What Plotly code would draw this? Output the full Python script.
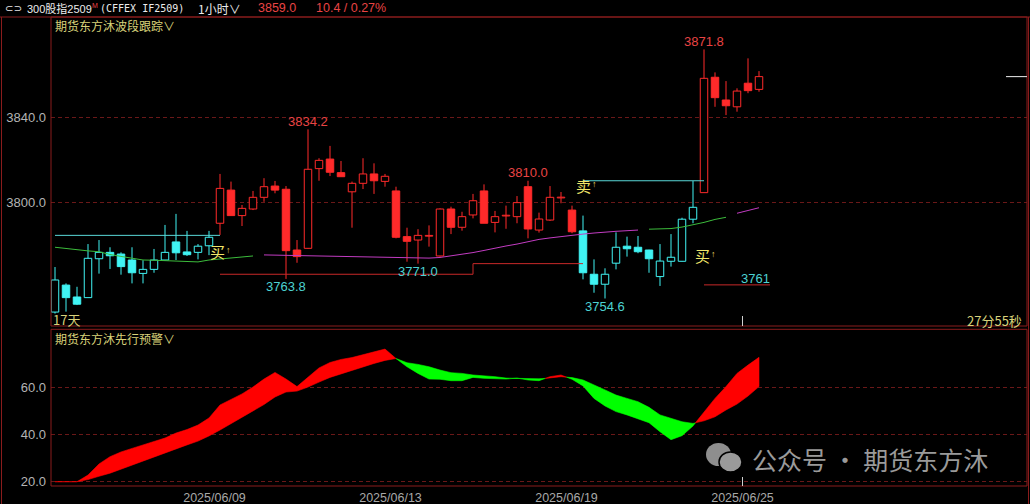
import plotly.graph_objects as go

# ---------------- data ----------------
opens = [3748.2, 3760.9, 3755.3, 3755.0, 3773.3, 3776.3, 3775.5, 3772.7, 3766.4, 3768.3,
         3772.7, 3781.2, 3776.5, 3776.3, 3779.4, 3790.0, 3805.6, 3793.6, 3796.7, 3802.2,
         3807.5, 3806.0, 3777.4, 3778.2, 3815.7, 3820.2, 3813.8, 3804.8, 3808.8, 3813.2,
         3809.7, 3805.2, 3783.7, 3782.1, 3784.0, 3774.6, 3796.7, 3788.1, 3793.9, 3805.2,
         3790.4, 3793.6, 3793.1, 3807.2, 3786.8, 3791.5, 3802.0, 3796.2, 3786.4, 3766.0,
         3761.3, 3771.2, 3779.2, 3778.7, 3777.4, 3764.9, 3772.1, 3772.1, 3791.9, 3804.4,
         3858.7, 3848.0, 3844.8, 3855.9, 3853.0]
highs = [3769.4, 3761.7, 3760.1, 3780.2, 3782.1, 3778.7, 3776.3, 3778.7, 3772.6, 3777.9,
         3789.2, 3794.4, 3786.4, 3780.2, 3786.4, 3813.2, 3809.6, 3798.6, 3805.2, 3811.2,
         3809.9, 3807.5, 3782.1, 3834.2, 3820.6, 3826.4, 3819.3, 3809.6, 3820.6, 3818.2,
         3813.2, 3807.2, 3787.9, 3787.2, 3789.0, 3797.0, 3797.8, 3795.4, 3803.8, 3808.3,
         3795.8, 3798.3, 3802.8, 3810.0, 3795.0, 3807.5, 3804.7, 3798.3, 3793.6, 3773.0,
         3768.8, 3785.7, 3783.7, 3784.0, 3777.5, 3780.2, 3784.9, 3792.6, 3809.9, 3871.8,
         3861.0, 3856.9, 3853.5, 3867.6, 3861.6]
lows = [3747.5, 3748.4, 3751.5, 3755.0, 3766.3, 3768.5, 3765.8, 3761.7, 3761.7, 3766.7,
        3772.5, 3772.7, 3774.6, 3773.0, 3775.0, 3784.5, 3793.4, 3788.7, 3796.2, 3800.1,
        3804.1, 3763.8, 3771.4, 3778.0, 3810.0, 3812.2, 3811.9, 3787.9, 3806.1, 3803.8,
        3807.2, 3782.9, 3771.9, 3771.0, 3779.0, 3774.3, 3784.9, 3786.5, 3792.3, 3790.0,
        3785.7, 3787.4, 3790.0, 3782.9, 3785.6, 3791.1, 3799.4, 3785.3, 3763.6, 3757.3,
        3754.6, 3768.3, 3774.3, 3775.9, 3766.7, 3760.5, 3769.6, 3772.0, 3790.0, 3804.4,
        3844.8, 3840.9, 3842.5, 3851.2, 3851.9]
closes = [3763.3, 3755.0, 3751.9, 3773.5, 3776.3, 3774.7, 3769.6, 3766.7, 3768.3, 3772.7,
          3776.3, 3776.1, 3775.2, 3779.2, 3783.4, 3806.4, 3793.6, 3797.0, 3802.2, 3807.2,
          3805.6, 3777.1, 3774.3, 3815.4, 3819.6, 3814.0, 3811.9, 3808.8, 3813.2, 3810.0,
          3812.1, 3783.4, 3781.5, 3784.3, 3784.2, 3796.7, 3788.1, 3793.1, 3800.6, 3790.0,
          3793.1, 3793.6, 3799.7, 3787.3, 3792.0, 3802.2, 3802.2, 3786.0, 3766.7, 3761.3,
          3766.0, 3778.7, 3778.0, 3776.6, 3773.3, 3772.2, 3774.0, 3791.9, 3797.5, 3858.2,
          3849.1, 3845.3, 3852.2, 3852.4, 3859.0]
# trend state of each bar (c = cyan / weak, r = red / strong)
trend = ["c"] * 15 + ["r"] * 33 + ["c"] * 11 + ["r"] * 6

# moving-average line pieces (start index, values)
green_1_start, green_1 = 0, [3778.7, 3778.1, 3777.4, 3777.0, 3776.6, 3775.3, 3774.4, 3773.4, 3772.7, 3772.6,
                             3772.4, 3772.0, 3771.8, 3771.8, 3772.7, 3773.2, 3773.9, 3774.4, 3774.6]
magenta_1_start, magenta_1 = 19, [3775.1, 3775.0, 3774.9, 3774.9, 3774.8, 3774.6, 3774.5, 3774.4, 3774.3, 3774.2,
                                  3774.1, 3774.1, 3774.1, 3773.9, 3773.6, 3773.6, 3773.9, 3774.6, 3775.3, 3776.2,
                                  3777.2, 3778.4, 3779.3, 3780.2, 3781.4, 3782.4, 3783.1, 3783.8, 3784.5, 3784.9,
                                  3785.4, 3785.9, 3786.2, 3786.5, 3786.8]
green_2_start, green_2 = 54, [3787.2, 3787.3, 3787.5, 3788.2, 3789.2, 3790.4, 3791.8, 3792.8]
magenta_2_start, magenta_2 = 62, [3794.7, 3796.0, 3797.3]

# step (support / resistance) lines
cyan_step_1_x, cyan_step_1_y = [0, 15], [3784.3, 3784.3]
red_step_1_x, red_step_1_y = [15, 38, 38, 48], [3766.0, 3766.0, 3771.0, 3771.0]
cyan_step_2_x, cyan_step_2_y = [48, 59], [3810.0, 3810.0]
red_step_2_x, red_step_2_y = [59, 65], [3761.0, 3761.0]

# labelled extremes
high_label_idx = [23, 43, 59]
low_label_idx = [21, 33, 50]

# signals (bar index, price, text)
signals = [(14.8, 3776.5, "买"), (48.0, 3807.6, "卖"), (58.9, 3774.8, "买")]

# lower indicator: fast & slow lines
fast = [20.0, 20.0, 20.0, 22.8, 27.5, 30.6, 32.6, 34.1, 35.6, 36.8,
        38.5, 40.6, 42.1, 44.0, 47.0, 52.5, 55.0, 57.2, 60.1, 63.5,
        66.3, 63.5, 60.3, 64.2, 68.2, 70.5, 71.8, 72.6, 73.9, 75.2,
        76.2, 72.2, 68.7, 65.9, 63.5, 63.4, 62.8, 62.8, 64.2, 63.8,
        63.6, 63.5, 63.9, 63.1, 62.8, 64.5, 65.2, 63.4, 60.6, 55.3,
        52.1, 49.7, 48.3, 46.6, 45.0, 41.2, 37.8, 39.5, 43.6, 49.7,
        55.3, 60.3, 65.9, 69.4, 72.7]
slow = [20.0, 20.0, 20.0, 20.9, 22.3, 23.6, 25.2, 26.9, 28.8, 30.5,
        32.2, 33.9, 35.6, 37.2, 39.4, 41.9, 44.4, 47.2, 50.0, 52.7,
        55.9, 58.0, 58.4, 60.1, 62.2, 64.2, 65.6, 67.1, 68.6, 70.1,
        71.4, 72.2, 70.4, 69.7, 68.7, 67.3, 66.2, 65.9, 65.2, 64.8,
        64.5, 63.9, 63.9, 63.8, 63.6, 63.9, 64.5, 64.1, 63.1, 61.0,
        58.9, 56.7, 55.3, 53.9, 51.5, 48.3, 46.9, 45.4, 44.7, 45.8,
        47.5, 50.4, 52.9, 56.3, 60.3]

date_tick_pos = [14.5, 30.5, 46.5, 62.5]
date_tick_text = ["2025/06/09", "2025/06/13", "2025/06/19", "2025/06/25"]
price_ticks = [3800, 3840]
ind_ticks = [20, 40, 60]

# ---------------- style ----------------
W, H = 1030, 504
ML, MR, MT, MB = 51, 3, 17, 18
PW, PH = W - ML - MR, H - MT - MB
RED, CYAN = "#ff2a2a", "#40f4f4"
RED_LBL, CYAN_LBL = "#e84444", "#4cd2d2"
KHAKI = "#d8d27a"
FRAME = "#8a1c1c"
GRID = "#6a1818"
FONT = "Liberation Sans, Noto Sans CJK SC, sans-serif"
CJK = "Noto Sans CJK SC"


def pxx(x):
    return (x - ML) / PW


def pxy(y):
    return (H - MB - y) / PH


MAIN_BOTTOM, LOW_TOP = 326, 329.3
main_dom = [pxy(MAIN_BOTTOM), 1.0]
low_dom = [0.0, pxy(LOW_TOP)]
XR = [(ML - 55) / 11, (W - MR - 55) / 11]
YR_MAIN = [3800 - (MAIN_BOTTOM - 202) / 2.125, 3800 + (202 - MT) / 2.125]
YR_LOW = [60 - (H - MB - 387.3) / 2.36, 60 + (387.3 - LOW_TOP) / 2.36]

fig = go.Figure()
n = len(opens)
xs = list(range(n))
col = {"r": RED, "c": CYAN}

# wicks (split around bodies)
for key in ("c", "r"):
    wx, wy = [], []
    for i in xs:
        if trend[i] != key:
            continue
        lo_b, hi_b = min(opens[i], closes[i]), max(opens[i], closes[i])
        wx += [i, i, None, i, i, None]
        wy += [lows[i], lo_b, None, hi_b, highs[i], None]
    fig.add_trace(go.Scatter(x=wx, y=wy, mode="lines", line=dict(color=col[key], width=1),
                             hoverinfo="skip", xaxis="x", yaxis="y"))

# bodies: hollow when rising, filled when falling
bases, heights, fills, edges = [], [], [], []
for i in xs:
    lo_b, hi_b = min(opens[i], closes[i]), max(opens[i], closes[i])
    h = max(hi_b - lo_b, 0.35)
    mid = (lo_b + hi_b) / 2
    bases.append(mid - h / 2)
    heights.append(h)
    c = col[trend[i]]
    edges.append(c)
    fills.append(c if closes[i] < opens[i] else "#000000")
fig.add_trace(go.Bar(x=xs, y=heights, base=bases, width=0.68,
                     marker=dict(color=fills, line=dict(color=edges, width=1)),
                     hoverinfo="skip", xaxis="x", yaxis="y"))

for start, vals, c in [(green_1_start, green_1, "#3cbc3c"), (magenta_1_start, magenta_1, "#c23cc2"),
                       (green_2_start, green_2, "#3cbc3c"), (magenta_2_start, magenta_2, "#c23cc2")]:
    fig.add_trace(go.Scatter(x=list(range(start, start + len(vals))), y=vals, mode="lines",
                             line=dict(color=c, width=1), hoverinfo="skip", xaxis="x", yaxis="y"))

for sx, sy, c in [(cyan_step_1_x, cyan_step_1_y, "#5ad8d8"), (red_step_1_x, red_step_1_y, "#c82828"),
                  (cyan_step_2_x, cyan_step_2_y, "#5ad8d8"), (red_step_2_x, red_step_2_y, "#c82828")]:
    fig.add_trace(go.Scatter(x=sx, y=sy, mode="lines", line=dict(color=c, width=1),
                             hoverinfo="skip", xaxis="x", yaxis="y"))


# lower indicator band: red where fast > slow, green otherwise
def band_runs(F, S):
    d = [f - s for f, s in zip(F, S)]
    sg, last = [], None
    for v in d:
        if v > 0:
            last = 1
        elif v < 0:
            last = -1
        sg.append(last)
    first = next(s for s in sg if s is not None)
    sg = [first if s is None else s for s in sg]
    runs = []
    cur = {"sign": sg[0], "x": [0], "f": [F[0]], "s": [S[0]]}
    for i in range(1, len(F)):
        if sg[i] == cur["sign"]:
            cur["x"].append(i); cur["f"].append(F[i]); cur["s"].append(S[i])
        else:
            d0, d1 = d[i - 1], d[i]
            t = d0 / (d0 - d1) if d0 != d1 else 0.0
            xc = i - 1 + t
            yc = F[i - 1] + t * (F[i] - F[i - 1])
            cur["x"].append(xc); cur["f"].append(yc); cur["s"].append(yc)
            runs.append(cur)
            cur = {"sign": sg[i], "x": [xc, i], "f": [yc, F[i]], "s": [yc, S[i]]}
    runs.append(cur)
    return runs


for run in band_runs(fast, slow):
    c = "#ff0000" if run["sign"] > 0 else "#00ff00"
    fig.add_trace(go.Scatter(x=run["x"] + run["x"][::-1], y=run["f"] + run["s"][::-1],
                             mode="lines", fill="toself", fillcolor=c,
                             line=dict(color=c, width=0.6), hoverinfo="skip",
                             xaxis="x2", yaxis="y2"))

# ---------------- annotations ----------------
ann = []
for i in high_label_idx:
    ann.append(dict(x=i, y=highs[i], xref="x", yref="y", text=f"{highs[i]:.1f}", showarrow=False,
                    yanchor="bottom", yshift=-1.5, font=dict(color=RED_LBL, size=13, family=FONT)))
for i in low_label_idx:
    ann.append(dict(x=i, y=lows[i], xref="x", yref="y", text=f"{lows[i]:.1f}", showarrow=False,
                    yanchor="top", yshift=1.5, font=dict(color=CYAN_LBL, size=13, family=FONT)))
ann.append(dict(x=red_step_2_x[1], y=red_step_2_y[1], xref="x", yref="y", text=f"{red_step_2_y[1]:.0f}",
                showarrow=False, xanchor="right", yanchor="bottom", yshift=-3, xshift=2,
                font=dict(color=CYAN_LBL, size=13, family=FONT)))
for sx, sy, t in signals:
    ann.append(dict(x=sx, y=sy, xref="x", yref="y", text=t, showarrow=False,
                    font=dict(color="#f2e66a", size=15, family=CJK)))
    ann.append(dict(x=sx, y=sy, xref="x", yref="y", text="↑", showarrow=False, xshift=11, yshift=2,
                    font=dict(color="#e8d860", size=9, family=FONT)))

hdr_y = pxy(8.5)
paper_ann = [
    dict(x=pxx(3), y=hdr_y, text="⊂⊃", xanchor="left", font=dict(color="#e8e8e8", size=10, family="DejaVu Sans")),
    dict(x=pxx(25), y=hdr_y, text="300股指2509", xanchor="left",
         font=dict(color="#ececec", size=11, family=FONT)),
    dict(x=pxx(89.5), y=pxy(5), text="M", xanchor="left", font=dict(color="#e84444", size=7, family=FONT)),
    dict(x=pxx(98), y=hdr_y, text="(CFFEX IF2509)", xanchor="left",
         font=dict(color="#ececec", size=10, family="DejaVu Sans Mono")),
    dict(x=pxx(196), y=hdr_y, text="1小时∨", xanchor="left",
         font=dict(color="#ececec", size=12, family=CJK)),
    dict(x=pxx(256), y=hdr_y, text="3859.0", xanchor="left", font=dict(color="#e84444", size=12.5, family=FONT)),
    dict(x=pxx(314), y=hdr_y, text="10.4 / 0.27%", xanchor="left",
         font=dict(color="#e84444", size=12.5, family=FONT)),
    dict(x=pxx(53), y=pxy(25.5), text="期货东方沐波段跟踪∨", xanchor="left",
         font=dict(color=KHAKI, size=12, family=CJK)),
    dict(x=pxx(53), y=pxy(338), text="期货东方沐先行预警∨", xanchor="left",
         font=dict(color=KHAKI, size=12, family=CJK)),
    dict(x=pxx(51), y=pxy(319.5), text="17天", xanchor="left",
         font=dict(color=KHAKI, size=13, family=CJK)),
    dict(x=pxx(1024), y=pxy(320.5), text="27分55秒", xanchor="right",
         font=dict(color=KHAKI, size=13, family=CJK)),
    dict(x=pxx(750), y=pxy(459), text="公众号 · 期货东方沐", xanchor="left",
         font=dict(color="#9a9a9a", size=25, family=CJK)),
]
for a in paper_ann:
    a.update(xref="paper", yref="paper", showarrow=False, yanchor="middle")
ann += paper_ann

# ---------------- shapes ----------------
shapes = [
    dict(type="rect", xref="paper", yref="paper", x0=0, x1=1, y0=main_dom[0], y1=1,
         line=dict(color=FRAME, width=1)),
    dict(type="rect", xref="paper", yref="paper", x0=0, x1=1, y0=0, y1=low_dom[1],
         line=dict(color=FRAME, width=1)),
    dict(type="line", xref="paper", yref="paper", x0=pxx(0), x1=pxx(W), y0=1, y1=1,
         line=dict(color=FRAME, width=1)),
    dict(type="line", xref="paper", yref="paper", x0=pxx(1.5), x1=pxx(1.5), y0=pxy(H), y1=1,
         line=dict(color=FRAME, width=1)),
    dict(type="line", xref="paper", yref="paper", x0=pxx(1028.5), x1=pxx(1028.5), y0=pxy(H), y1=1,
         line=dict(color=FRAME, width=1)),
    dict(type="line", xref="paper", yref="y", x0=pxx(1006), x1=1, y0=closes[-1], y1=closes[-1],
         line=dict(color="#f0f0f0", width=1)),
    dict(type="line", xref="x", yref="paper", x0=date_tick_pos[-1], x1=date_tick_pos[-1],
         y0=main_dom[0], y1=pxy(316), line=dict(color="#d0d0d0", width=1)),
    dict(type="line", xref="x", yref="paper", x0=date_tick_pos[-1], x1=date_tick_pos[-1],
         y0=0, y1=pxy(477), line=dict(color="#d0d0d0", width=1)),
    dict(type="circle", xref="paper", yref="paper", x0=pxx(706), x1=pxx(731), y0=pxy(466), y1=pxy(443),
         fillcolor="#8e8e8e", line=dict(width=0)),
    dict(type="circle", xref="paper", yref="paper", x0=pxx(719), x1=pxx(742), y0=pxy(472), y1=pxy(452),
         fillcolor="#9a9a9a", line=dict(color="#000000", width=1.5)),
]

axis_common = dict(showline=False, zeroline=False, ticks="", fixedrange=True, automargin=False)
fig.update_layout(
    width=W, height=H, autosize=False,
    margin=dict(l=ML, r=MR, t=MT, b=MB, pad=0, autoexpand=False),
    paper_bgcolor="#000000", plot_bgcolor="#000000",
    showlegend=False, barmode="overlay", hovermode=False,
    font=dict(family=FONT, color="#b0b0b0", size=12),
    xaxis=dict(domain=[0, 1], range=XR, anchor="y", showticklabels=False, showgrid=False, **axis_common),
    yaxis=dict(domain=main_dom, range=YR_MAIN, tickvals=price_ticks,
               ticktext=[f"{v:.1f}" for v in price_ticks], showgrid=True, gridcolor=GRID,
               griddash="4px,3px", gridwidth=1, tickfont=dict(color="#b4b4b4", size=13, family=FONT),
               ticklabelstandoff=4, **axis_common),
    xaxis2=dict(domain=[0, 1], range=XR, anchor="y2", tickvals=date_tick_pos, ticktext=date_tick_text,
                showgrid=False, tickfont=dict(color="#a8a8a8", size=12.5, family=FONT),
                ticklabelstandoff=2, **axis_common),
    yaxis2=dict(domain=low_dom, range=YR_LOW, tickvals=ind_ticks,
                ticktext=[f"{v:.1f}" for v in ind_ticks], showgrid=True, gridcolor=GRID,
                griddash="4px,3px", gridwidth=1, tickfont=dict(color="#b4b4b4", size=13, family=FONT),
                ticklabelstandoff=4, **axis_common),
    annotations=ann,
    shapes=shapes,
)

fig.write_html("out.html", config={"displayModeBar": False, "responsive": False},
               post_script="document.body.style.margin='0';document.body.style.overflow='hidden';"
                           "document.body.style.background='#000';")
